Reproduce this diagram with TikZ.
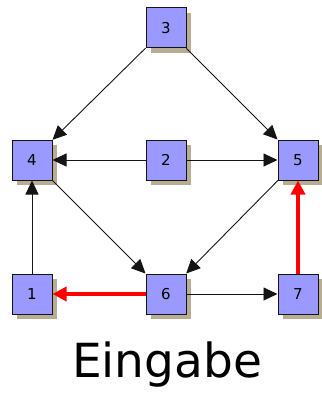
\documentclass[tikz,border=0pt]{standalone}
\usepackage{fontspec}
\setmainfont{DejaVu Sans}
\usetikzlibrary{arrows.meta,shadows}
\definecolor{boxfill}{RGB}{153,153,255}
\definecolor{shade}{RGB}{184,172,146}
\definecolor{edge}{RGB}{20,20,20}
\tikzset{
  vbox/.style={draw=edge,line width=1pt,fill=boxfill,minimum width=40pt,minimum height=40pt,inner sep=0pt,
    font=\fontsize{15pt}{15pt}\selectfont,
    drop shadow={shadow xshift=5pt,shadow yshift=-5pt,fill=shade,opacity=1}},
  conn/.style={draw=edge,line width=0.9pt,-{Triangle[length=14pt,width=13pt]}},
  hot/.style={draw=red,line width=4pt,-{Triangle[length=14pt,width=14pt,fill=red]}}
}
\begin{document}
\begin{tikzpicture}[x=1pt,y=-1pt]
\useasboundingbox (0,0) rectangle (321,393);
\node[vbox] (n3) at (166,28) {3};
\node[vbox] (n4) at (32,160) {4};
\node[vbox] (n2) at (166,160) {2};
\node[vbox] (n5) at (298,160) {5};
\node[vbox] (n1) at (32,294) {1};
\node[vbox] (n6) at (166,294) {6};
\node[vbox] (n7) at (298,294) {7};
\draw[conn] (n3) -- (n4);
\draw[conn] (n3) -- (n5);
\draw[conn] (n2) -- (n4);
\draw[conn] (n2) -- (n5);
\draw[conn] (n4) -- (n6);
\draw[conn] (n5) -- (n6);
\draw[conn] (n1) -- (n4);
\draw[conn] (n6) -- (n7);
\draw[hot] (n6) -- (n1);
\draw[hot] (n7) -- (n5);
\node[font=\fontsize{47pt}{47pt}\selectfont,anchor=base] (title) at (167,377) {Eingabe};
\end{tikzpicture}
\end{document}
